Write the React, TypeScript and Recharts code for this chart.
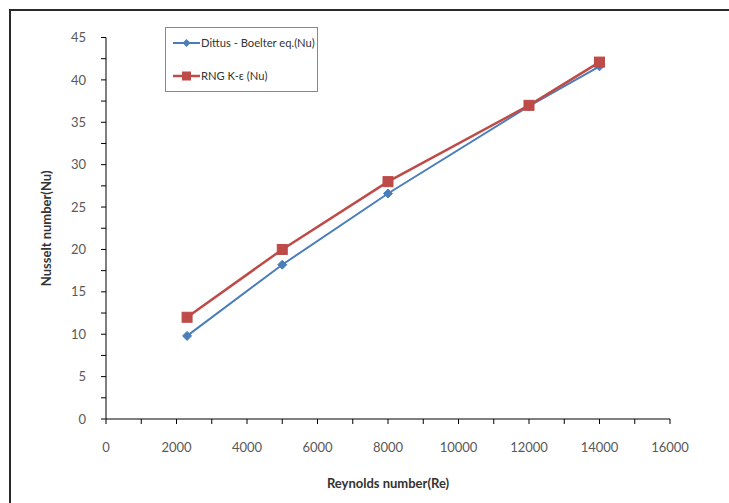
import React from 'react';
import { LineChart, Line, XAxis, YAxis, Legend } from 'recharts';

const reynolds = [2300, 5000, 8000, 12000, 14000];
const dittusBoelter = [9.8, 18.2, 26.6, 36.9, 41.6];
const rngKe = [12.0, 20.0, 28.0, 37.0, 42.1];
const xTicks = [0, 1000, 2000, 3000, 4000, 5000, 6000, 7000, 8000, 9000, 10000, 11000, 12000, 13000, 14000, 15000, 16000];
const yTicks = [0, 2.5, 5, 7.5, 10, 12.5, 15, 17.5, 20, 22.5, 25, 27.5, 30, 32.5, 35, 37.5, 40, 42.5, 45];

const data = reynolds.map((re, i) => ({ re, db: dittusBoelter[i], rng: rngKe[i] }));

const BLUE = '#4a7ebb';
const RED = '#be4b48';
const FONT = 'Lato, "Open Sans", sans-serif';

const Diamond = (props: any) => {
  const { cx, cy, index } = props;
  if (cx == null || cy == null) return null;
  const r = 4.5;
  return <polygon key={`d${index}`} points={`${cx},${cy - r} ${cx + r},${cy} ${cx},${cy + r} ${cx - r},${cy}`} fill={BLUE} stroke={BLUE} />;
};

const Square = (props: any) => {
  const { cx, cy, index } = props;
  if (cx == null || cy == null) return null;
  const s = 10;
  return <rect key={`s${index}`} x={cx - s / 2} y={cy - s / 2} width={s} height={s} fill={RED} stroke={RED} />;
};

const LegendBox = () => (
  <div style={{ position: 'absolute', left: 165, top: 27, width: 153, height: 65, border: '1px solid #888', background: '#fff', boxSizing: 'border-box' }}>
    <svg width={151} height={63} style={{ position: 'absolute', left: 0, top: 0 }}>
      <line x1={7} y1={15} x2={34} y2={15} stroke={BLUE} strokeWidth={2} />
      <polygon points="20.5,11 24.5,15 20.5,19 16.5,15" fill={BLUE} />
      <line x1={7} y1={48} x2={34} y2={48} stroke={RED} strokeWidth={2.5} />
      <rect x={16} y={43.5} width={9} height={9} fill={RED} />
      <text x={35} y={19} fontFamily={FONT} fontSize={11.2} fill="#333">Dittus - Boelter eq.(Nu)</text>
      <text x={35} y={52} fontFamily={FONT} fontSize={11.2} fill="#333">RNG K-ε (Nu)</text>
    </svg>
  </div>
);

export default function App() {
  return (
    <div style={{ position: 'absolute', left: 0, top: 0, width: 729, height: 503, overflow: 'hidden', background: '#fff' }}>
      <div style={{ position: 'absolute', left: 9, top: 9, width: 720, height: 494, borderLeft: '2px solid #2a2a2a', borderTop: '2px solid #2a2a2a', boxSizing: 'border-box' }} />
      <LineChart width={729} height={503} data={data} margin={{ top: 37.5, right: 59, bottom: 14, left: 46 }}>
        <XAxis
          dataKey="re"
          type="number"
          domain={[0, 16000]}
          ticks={xTicks}
          interval={0}
          height={70}
          tickFormatter={(v: number) => (v % 2000 === 0 ? String(v) : '')}
          stroke="#000"
          tickLine={{ stroke: '#000' }}
          tickSize={5}
          tickMargin={19}
          tick={{ fill: '#595959', fontSize: 13, fontFamily: FONT }}
          label={{ value: 'Reynolds number(Re)', position: 'insideBottom', offset: 1, style: { fontWeight: 'bold', fontSize: 13, fill: '#333', fontFamily: FONT } }}
        />
        <YAxis
          type="number"
          domain={[0, 45]}
          ticks={yTicks}
          interval={0}
          width={60}
          tickFormatter={(v: number) => (v % 5 === 0 ? String(v) : '')}
          stroke="#000"
          tickLine={{ stroke: '#000' }}
          tickSize={5}
          tickMargin={15}
          tick={{ fill: '#595959', fontSize: 13, fontFamily: FONT }}
          label={{ value: 'Nusselt number(Nu)', angle: -90, position: 'insideLeft', offset: 0, dx: 0, style: { fontWeight: 'bold', fontSize: 13, fill: '#333', fontFamily: FONT, textAnchor: 'middle' } }}
        />
        <Legend content={() => <LegendBox />} wrapperStyle={{ position: 'absolute', left: 0, top: 0, width: 0, height: 0 }} />
        <Line type="linear" dataKey="db" name="Dittus - Boelter eq.(Nu)" stroke={BLUE} strokeWidth={2} dot={Diamond} isAnimationActive={false} />
        <Line type="linear" dataKey="rng" name="RNG K-ε (Nu)" stroke={RED} strokeWidth={2.5} dot={Square} isAnimationActive={false} />
      </LineChart>
    </div>
  );
}
